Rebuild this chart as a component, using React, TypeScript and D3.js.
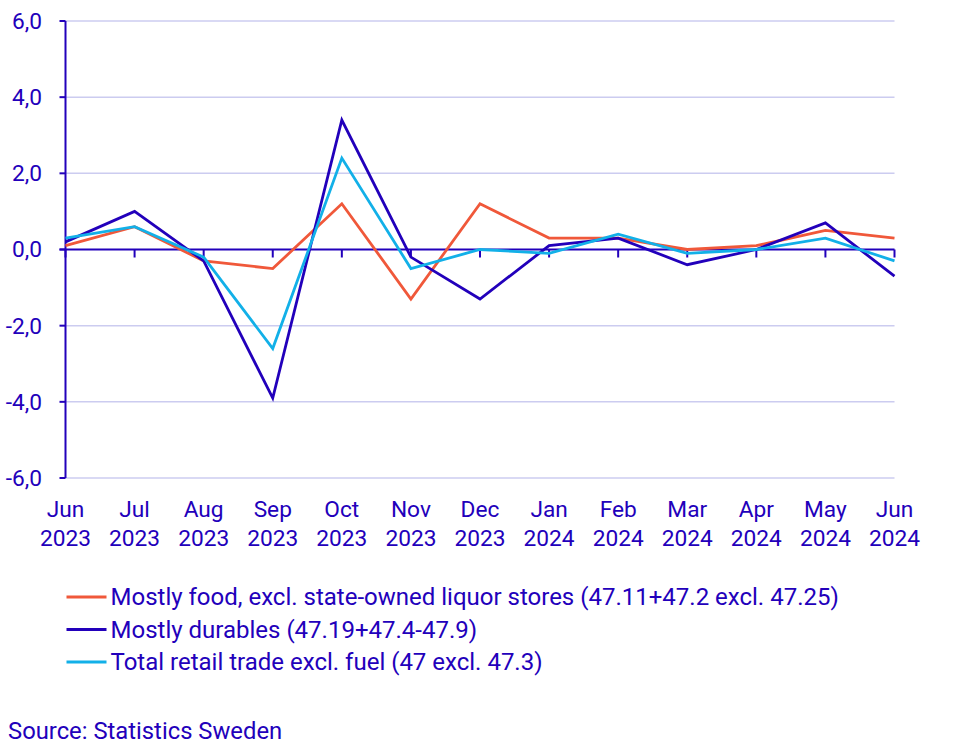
import React from "react";
import * as d3 from "d3";

const months = ["Jun", "Jul", "Aug", "Sep", "Oct", "Nov", "Dec", "Jan", "Feb", "Mar", "Apr", "May", "Jun"];
const years = ["2023", "2023", "2023", "2023", "2023", "2023", "2023", "2024", "2024", "2024", "2024", "2024", "2024"];

const food = [0.1, 0.6, -0.3, -0.5, 1.2, -1.3, 1.2, 0.3, 0.3, 0.0, 0.1, 0.5, 0.3];
const durables = [0.2, 1.0, -0.3, -3.9, 3.4, -0.2, -1.3, 0.1, 0.3, -0.4, 0.0, 0.7, -0.7];
const total = [0.3, 0.6, -0.2, -2.6, 2.4, -0.5, 0.0, -0.1, 0.4, -0.1, 0.0, 0.3, -0.3];

const yTicks = [6, 4, 2, 0, -2, -4, -6];

const seriesNames = [
  "Mostly food, excl. state-owned liquor stores (47.11+47.2 excl. 47.25)",
  "Mostly durables (47.19+47.4-47.9)",
  "Total retail trade excl. fuel (47 excl. 47.3)",
];
const seriesColors = ["#f0583a", "#2200bb", "#12b0e8"];

const AXIS = "#2200bb";
const GRID = "#ccccf0";
const FONT = "Roboto, sans-serif";

export default function App() {
  const W = 965;
  const H = 744;
  const x0 = 65.5;
  const x1 = 894.5;
  const yTop = 21;
  const yBot = 478;

  const x = d3.scalePoint<number>().domain(d3.range(months.length)).range([x0, x1]);
  const y = d3.scaleLinear().domain([-6, 6]).range([yBot, yTop]);

  const line = d3
    .line<number>()
    .x((_, i) => x(i) as number)
    .y((d) => y(d));

  const allSeries = [food, durables, total];

  return (
    <svg width={W} height={H} style={{ position: "absolute", left: 0, top: 0 }} fontFamily={FONT}>
      <rect width={W} height={H} fill="#fff" />
      {yTicks.map((t) =>
        t === 0 ? null : (
          <line key={"g" + t} x1={x0} x2={x1} y1={y(t)} y2={y(t)} stroke={GRID} strokeWidth={1.5} />
        )
      )}
      {yTicks.map((t) => (
        <g key={"yt" + t}>
          <line x1={x0 - 6} x2={x0} y1={y(t)} y2={y(t)} stroke={AXIS} strokeWidth={2} />
          <text x={42} y={y(t)} dy="0.35em" textAnchor="end" fontSize={22.7} fill={AXIS}>
            {d3.format(".1f")(t).replace(".", ",").replace("−", "-")}
          </text>
        </g>
      ))}
      <line x1={x0} x2={x0} y1={y(6)} y2={y(-6)} stroke={AXIS} strokeWidth={2} />
      <line x1={x0 - 6} x2={x1} y1={y(0)} y2={y(0)} stroke={AXIS} strokeWidth={2} />
      {months.map((m, i) => (
        <g key={"xt" + i}>
          <line x1={x(i)} x2={x(i)} y1={y(0)} y2={y(0) + 8} stroke={AXIS} strokeWidth={2} />
          <text x={x(i)} y={517} textAnchor="middle" fontSize={22.7} fill={AXIS}>
            {m}
          </text>
          <text x={x(i)} y={546} textAnchor="middle" fontSize={22.7} fill={AXIS}>
            {years[i]}
          </text>
        </g>
      ))}
      {allSeries.map((s, k) => (
        <path
          key={"s" + k}
          d={line(s) || ""}
          fill="none"
          stroke={seriesColors[k]}
          strokeWidth={2.8}
          strokeLinejoin="miter"
        />
      ))}
      {seriesNames.map((n, k) => (
        <g key={"l" + k}>
          <line x1={66.5} x2={106.5} y1={597 + k * 32.5} y2={597 + k * 32.5} stroke={seriesColors[k]} strokeWidth={2.8} />
          <text x={110.5} y={597 + k * 32.5} dy="0.35em" fontSize={24} fill={AXIS}>
            {n}
          </text>
        </g>
      ))}
      <text x={8} y={731} dy="0.35em" fontSize={23.8} fill={AXIS}>
        Source: Statistics Sweden
      </text>
    </svg>
  );
}
